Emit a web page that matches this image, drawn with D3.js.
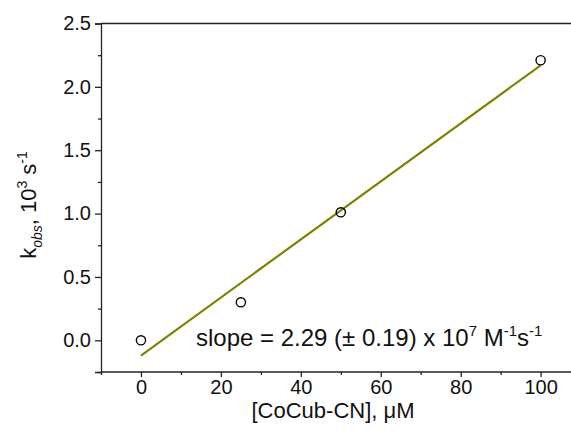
<!DOCTYPE html>
<html>
<head>
<meta charset="utf-8">
<script src="https://cdn.jsdelivr.net/npm/d3@7"></script>
<style>
  html, body { margin: 0; padding: 0; background: #fff; }
  svg { display: block; font-family: "Liberation Sans", Arial, sans-serif; }
</style>
</head>
<body>
<svg id="chart" width="571" height="444"></svg>
<script>
// Observed rate constant vs. CoCub-CN concentration
const concentration = [0, 25, 50, 100];          // µM
const kObs = [0.0, 0.30, 1.01, 2.21];            // 10^3 s^-1
const fitSlope = 0.0229;                          // 10^3 s^-1 per µM (= 2.29 x 10^7 M^-1 s^-1)
const fitIntercept = -0.12;
const fitRange = [0, 100];
const xMajorTicks = [0, 20, 40, 60, 80, 100];
const xMinorTicks = [-10, 10, 30, 50, 70, 90];
const yMajorTicks = [0.0, 0.5, 1.0, 1.5, 2.0, 2.5];
const yMinorTicks = [-0.25, 0.25, 0.75, 1.25, 1.75, 2.25];

const svg = d3.select("#chart");
const x = d3.scaleLinear().domain([-10, 107.6]).range([101, 571]);
const y = d3.scaleLinear().domain([-0.25, 2.5]).range([372, 23.5]);

const axisColor = "#222";
const font = "'Liberation Sans', Arial, sans-serif";

// top frame line
svg.append("line")
  .attr("x1", x(-10)).attr("x2", 571)
  .attr("y1", y(2.5)).attr("y2", y(2.5))
  .attr("stroke", axisColor).attr("stroke-width", 1.3);

// bottom axis
const gx = svg.append("g").attr("transform", `translate(0,${y(-0.25)})`);
gx.call(d3.axisBottom(x).tickValues(xMajorTicks).tickSize(5).tickPadding(3).tickFormat(d3.format("d")));
gx.append("g").call(d3.axisBottom(x).tickValues(xMinorTicks).tickSize(3).tickFormat(""))
  .select(".domain").remove();
gx.select(".domain").attr("d", `M${x(-10)},0H571`);

// left axis
const gy = svg.append("g").attr("transform", `translate(${x(-10)},0)`);
gy.call(d3.axisLeft(y).tickValues(yMajorTicks).tickSize(6).tickPadding(4).tickFormat(d3.format(".1f")));
gy.append("g").call(d3.axisLeft(y).tickValues(yMinorTicks).tickSize(3).tickFormat(""))
  .select(".domain").remove();

svg.selectAll(".domain, .tick line").attr("stroke", axisColor).attr("stroke-width", 1.3);
svg.selectAll(".tick text").attr("fill", "#111").style("font-size", "20px").style("font-family", font);

// linear fit
svg.append("line")
  .attr("x1", x(fitRange[0])).attr("y1", y(fitIntercept + fitSlope * fitRange[0]))
  .attr("x2", x(fitRange[1])).attr("y2", y(fitIntercept + fitSlope * fitRange[1]))
  .attr("stroke", "#808000").attr("stroke-width", 2.2);

// data points
svg.selectAll("circle.pt").data(concentration).join("circle")
  .attr("class", "pt")
  .attr("cx", d => x(d)).attr("cy", (d, i) => y(kObs[i]))
  .attr("r", 4.6).attr("fill", "none").attr("stroke", "#000").attr("stroke-width", 1.4);

// x axis title
svg.append("text")
  .attr("x", 333).attr("y", 418).attr("text-anchor", "middle")
  .style("font-size", "22px").attr("fill", "#111")
  .text("[CoCub-CN], μM");

// y axis title
const yt = svg.append("text")
  .attr("transform", `translate(36,205) rotate(-90)`)
  .attr("text-anchor", "middle").style("font-size", "22px").attr("fill", "#111");
yt.append("tspan").text("k");
yt.append("tspan").attr("dy", 6).style("font-size", "14px").style("font-style", "italic").text("obs");
yt.append("tspan").attr("dy", -6).text(", 10");
yt.append("tspan").attr("dy", -9).style("font-size", "14px").text("3");
yt.append("tspan").attr("dy", 9).text(" s");
yt.append("tspan").attr("dy", -9).style("font-size", "14px").text("-1");

// slope annotation
const st = svg.append("text").attr("x", 196).attr("y", 346)
  .style("font-size", "24px").attr("fill", "#111");
st.append("tspan").text("slope = 2.29 (± 0.19) x 10");
st.append("tspan").attr("dy", -10).style("font-size", "15px").text("7");
st.append("tspan").attr("dy", 10).text(" M");
st.append("tspan").attr("dy", -10).style("font-size", "15px").text("-1");
st.append("tspan").attr("dy", 10).text("s");
st.append("tspan").attr("dy", -10).style("font-size", "15px").text("-1");
</script>
</body>
</html>
